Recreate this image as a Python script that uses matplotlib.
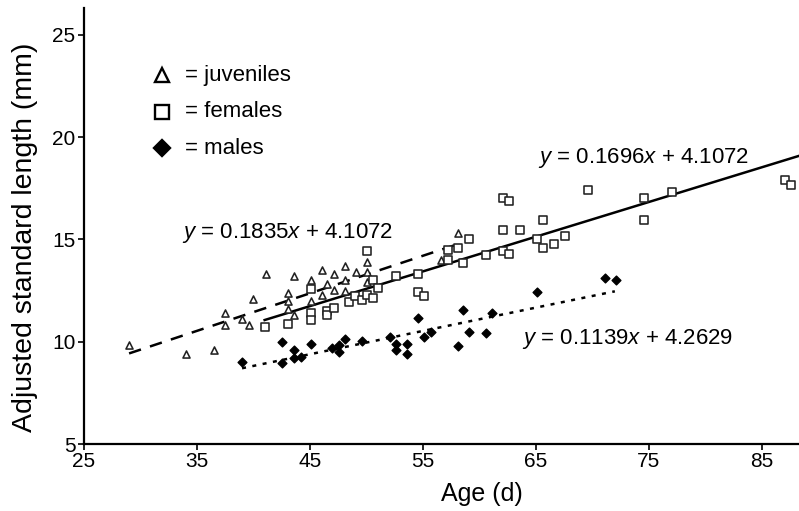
import matplotlib
matplotlib.use('Agg')
import matplotlib.pyplot as plt
import numpy as np

plt.rcParams['font.family'] = ['Liberation Sans', 'DejaVu Sans']
plt.rcParams['mathtext.fontset'] = 'custom'
plt.rcParams['mathtext.rm'] = 'Liberation Sans'
plt.rcParams['mathtext.it'] = 'Liberation Sans:italic'

# Juveniles (age d, adjusted SL mm)
juv_age = [29.0, 34.0, 36.5, 37.5, 37.5, 39.0, 39.6, 40.0, 41.1, 43.6, 45.1, 46.1,
           47.1, 48.1, 49.1, 50.1, 50.1, 43.1, 43.1, 45.1, 46.1, 46.5, 47.1, 48.1,
           48.1, 50.1, 43.1, 43.6, 56.6, 58.1]
juv_len = [9.85, 9.4, 9.6, 11.4, 10.8, 11.1, 10.8, 12.1, 13.3, 13.2, 13.0, 13.5,
           13.3, 13.7, 13.4, 13.9, 13.4, 12.4, 12.0, 12.0, 12.3, 12.8, 12.55, 13.0,
           12.5, 12.9, 11.6, 11.3, 14.0, 15.3]

# Females
fem_age = [41.0, 43.1, 45.1, 45.1, 45.1, 46.5, 46.5, 47.1, 48.5, 49.0, 49.6, 50.1,
           50.6, 50.6, 51.0, 50.1, 52.6, 54.6, 54.6, 55.1, 57.2, 57.2, 58.1, 58.6,
           59.1, 60.6, 62.1, 62.6, 62.1, 63.6, 62.1, 62.6, 65.1, 65.6, 65.6, 66.6,
           67.6, 69.6, 74.6, 74.6, 77.1, 87.1, 87.6]
fem_len = [10.7, 10.85, 12.6, 11.4, 11.05, 11.5, 11.3, 11.65, 11.95, 12.25, 12.05, 12.3,
           12.15, 13.0, 12.65, 14.45, 13.2, 13.3, 12.45, 12.25, 14.5, 14.0, 14.6, 13.85,
           15.0, 14.25, 14.45, 14.3, 15.45, 15.45, 17.0, 16.9, 15.0, 14.6, 15.95, 14.8,
           15.15, 17.4, 17.0, 15.95, 17.3, 17.9, 17.65]

# Males
mal_age = [39.0, 42.5, 42.5, 43.6, 43.6, 44.2, 45.1, 47.0, 47.6, 47.6, 48.1, 49.6,
           52.1, 52.6, 52.6, 53.6, 53.6, 54.6, 55.1, 55.7, 58.1, 58.6, 59.1, 60.6,
           61.1, 65.1, 71.1, 72.1]
mal_len = [9.0, 10.0, 8.95, 9.6, 9.2, 9.25, 9.9, 9.7, 9.85, 9.5, 10.15, 10.05,
           10.25, 9.9, 9.6, 9.9, 9.4, 11.15, 10.25, 10.5, 9.8, 11.55, 10.5, 10.45,
           11.4, 12.45, 13.1, 13.0]

# regression lines: slope, intercept, x range
fem_fit = (0.1696, 4.1072, 41, 88.3)
juv_fit = (0.1835, 4.1072, 29, 58)
mal_fit = (0.1139, 4.2629, 39, 72)

fig = plt.figure(figsize=(7.99, 5.11), dpi=100)
ax = fig.add_axes([0.105, 0.131, 0.895, 0.853])

ax.scatter(juv_age, juv_len, marker='^', s=26, facecolors='white', edgecolors='#222222',
           linewidths=1.15, zorder=3)
ax.scatter(fem_age, fem_len, marker='s', s=26, facecolors='white', edgecolors='#222222',
           linewidths=1.15, zorder=3)
ax.scatter(mal_age, mal_len, marker='D', s=20, color='black', zorder=3)

def fit_line(fit, **kw):
    m, b, x0, x1 = fit
    xs = np.array([x0, x1])
    ax.plot(xs, m * xs + b, color='black', zorder=2, **kw)

fit_line(fem_fit, lw=1.8, linestyle='-')
fit_line(juv_fit, lw=1.8, linestyle=(0, (5.0, 3.8)))
fit_line(mal_fit, lw=1.8, linestyle=(0, (1.6, 2.6)))

# equations
eq_size = 16
ax.text(65.2, 19.0, '$y$ = 0.1696$x$ + 4.1072', fontsize=eq_size, va='center')
ax.text(33.7, 15.3, '$y$ = 0.1835$x$ + 4.1072', fontsize=eq_size, va='center')
ax.text(63.8, 10.15, '$y$ = 0.1139$x$ + 4.2629', fontsize=eq_size, va='center')

# key (marker symbol + label)
key_markers = ['^', 's', 'D']
key_fill = ['white', 'white', 'black']
key_sizes = [10, 9.5, 8]
key_labels = ['= juveniles', '= females', '= males']
key_rows = [0.846, 0.762, 0.679]
for mk, fc, ms, lab, yy in zip(key_markers, key_fill, key_sizes, key_labels, key_rows):
    ax.plot([0.109], [yy], marker=mk, markersize=ms, markerfacecolor=fc,
            markeredgecolor='black', markeredgewidth=1.7, linestyle='none',
            transform=ax.transAxes, clip_on=False)
    ax.text(0.142, yy, lab, fontsize=16, va='center', transform=ax.transAxes)

ax.set_xlim(25, 88.3)
ax.set_ylim(5, 26.3)
ax.set_xticks([25, 35, 45, 55, 65, 75, 85])
ax.set_yticks([5, 10, 15, 20, 25])
ax.spines['top'].set_visible(False)
ax.spines['right'].set_visible(False)
ax.spines['left'].set_linewidth(1.6)
ax.spines['bottom'].set_linewidth(1.6)
ax.tick_params(direction='out', length=4, width=1.2, labelsize=15, pad=2)
ax.set_xlabel('Age (d)', fontsize=18)
ax.xaxis.set_label_coords(0.557, -0.088)
ax.set_ylabel('Adjusted standard length (mm)', fontsize=20.5)
ax.yaxis.label.set_va('center')
ax.yaxis.set_label_coords(-0.083, 0.475)

fig.savefig('out.png', dpi=100)
